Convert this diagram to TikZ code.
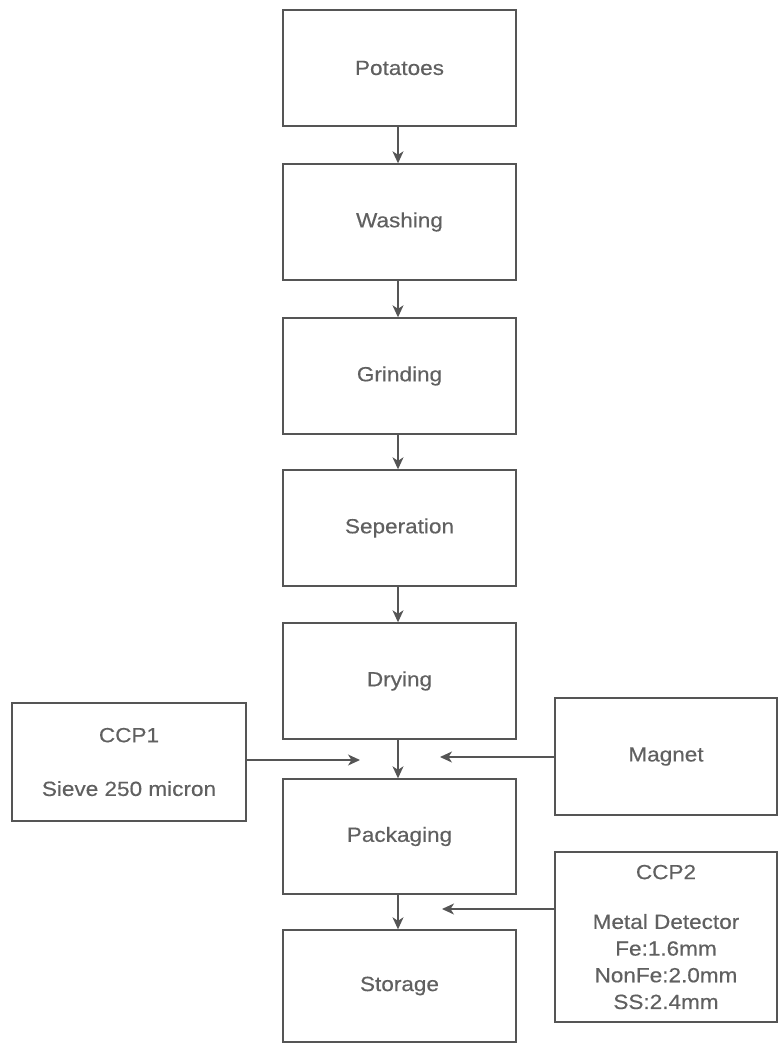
\documentclass[tikz,border=0pt]{standalone}
\usepackage{fontspec}
\setmainfont{Liberation Sans}[FakeStretch=1.1,FakeBold=0.4]
\usetikzlibrary{arrows.meta}
\definecolor{linegray}{HTML}{555555}
\definecolor{textgray}{HTML}{606060}
\begin{document}
\begin{tikzpicture}[x=1pt,y=-1pt,
  labeltext/.style={text=textgray, font=\fontsize{20.5}{26.7}\selectfont, align=center, inner sep=0pt},
  stepbox/.style={draw=linegray, line width=1.4pt, minimum width=233pt, minimum height=116pt,
    inner sep=0pt, labeltext},
  sidebox/.style={draw=linegray, line width=1.4pt, inner sep=0pt, labeltext},
  flow/.style={draw=linegray, line width=1.4pt, -{Stealth[length=12pt,width=11pt,inset=3.5pt]}}]
\useasboundingbox (0,0) rectangle (779,1045);
\node[stepbox] (potatoes) at (399.5,68) {Potatoes};
\node[stepbox] (washing) at (399.5,222) {Washing};
\node[stepbox] (grinding) at (399.5,376) {Grinding};
\node[stepbox] (seperation) at (399.5,528) {Seperation};
\node[stepbox] (drying) at (399.5,681) {Drying};
\node[stepbox, minimum height=115pt] (packaging) at (399.5,836.5) {Packaging};
\node[stepbox, minimum height=112pt] (storage) at (399.5,986) {Storage};
\node[sidebox, minimum width=234pt, minimum height=118pt] (ccp1) at (129,762) {CCP1\\[27pt]Sieve 250 micron};
\node[sidebox, minimum width=222pt, minimum height=117pt] (magnet) at (666,756.5) {Magnet};
\node[sidebox, minimum width=222pt, minimum height=170pt] (ccp2) at (666,937)
  {CCP2\\[23pt]Metal Detector\\Fe:1.6mm\\NonFe:2.0mm\\SS:2.4mm};
\coordinate (tip1) at (360,760);
\coordinate (tip2) at (440,757);
\coordinate (tip3) at (442,909);
\draw[flow] (potatoes.south -| 398,0) -- (washing.north -| 398,0);
\draw[flow] (washing.south -| 398,0) -- (grinding.north -| 398,0);
\draw[flow] (grinding.south -| 398,0) -- (seperation.north -| 398,0);
\draw[flow] (seperation.south -| 398,0) -- (drying.north -| 398,0);
\draw[flow] (drying.south -| 398,0) -- (packaging.north -| 398,0);
\draw[flow] (packaging.south -| 398,0) -- (storage.north -| 398,0);
\draw[flow] (ccp1.east |- tip1) -- (tip1);
\draw[flow] (magnet.west |- tip2) -- (tip2);
\draw[flow] (ccp2.west |- tip3) -- (tip3);
\end{tikzpicture}
\end{document}
